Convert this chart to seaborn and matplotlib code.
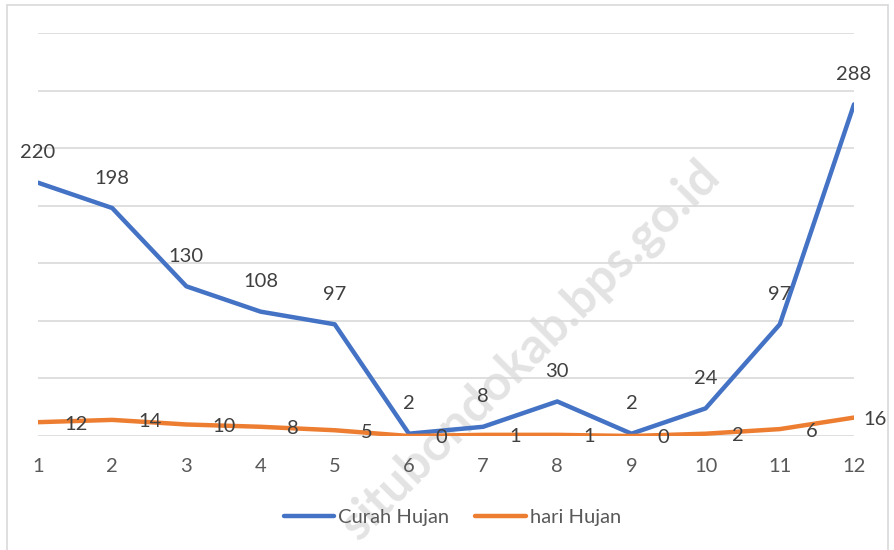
import pandas as pd
import numpy as np
import seaborn as sns
import matplotlib.pyplot as plt
from matplotlib.lines import Line2D

# Data
months = [1, 2, 3, 4, 5, 6, 7, 8, 9, 10, 11, 12]
curah_hujan = [220, 198, 130, 108, 97, 2, 8, 30, 2, 24, 97, 288]
hari_hujan = [12, 14, 10, 8, 5, 0, 1, 1, 0, 2, 6, 16]
series_names = ['Curah Hujan', 'hari Hujan']
colors = ['#4472C4', '#ED7D31']

sns.set_theme(style='white')
plt.rcParams['font.family'] = ['Lato', 'DejaVu Sans']
fs = 14.5

df = pd.DataFrame({
    'bulan': months * 2,
    'nilai': curah_hujan + hari_hujan,
    'seri': [series_names[0]] * len(months) + [series_names[1]] * len(months),
})

fig = plt.figure(figsize=(8.94, 5.5), dpi=100)
ax = fig.add_axes([38 / 894, 1 - 436 / 550, (854 - 38) / 894, (436 - 33) / 550])
ax.set_zorder(2)

# watermark behind the chart (pixel coords from bottom-left)
fig.text(530, 550 - 350, 'situbondokab.bps.go.id', transform=None, fontsize=36, fontweight='bold',
         color='#E3E3E3', rotation=45, rotation_mode='anchor', ha='center', va='center', zorder=1)

sns.lineplot(data=df, x='bulan', y='nilai', hue='seri', palette=colors, linewidth=3.2,
             ax=ax, legend=False, zorder=3)
ax.patch.set_alpha(0)

ax.set_xlim(1, 12)
ax.set_ylim(0, 350)
ax.set_yticks(np.arange(0, 351, 50))
ax.set_yticklabels([])
ax.set_xticks(months)
ax.set_xticklabels([str(m) for m in months])
ax.grid(axis='y', color='#D9D9D9', linewidth=1.2)
ax.tick_params(axis='x', length=0, pad=16, labelsize=fs, labelcolor='#595959')
ax.tick_params(axis='y', length=0)
for s in ax.spines.values():
    s.set_visible(False)
ax.set_xlabel('')
ax.set_ylabel('')

# data labels
for m, v in zip(months, curah_hujan):
    ax.annotate(str(v), (m, v), xytext=(0, 21.5), textcoords='offset points',
                ha='center', va='center', fontsize=fs, color='#404040', zorder=5)
for m, v in zip(months, hari_hujan):
    dx = 6.5 if m == months[-1] else 18.7
    ax.annotate(str(v), (m, v), xytext=(dx, -1.4), textcoords='offset points',
                ha='left', va='center', fontsize=fs, color='#404040', zorder=5)

handles = [Line2D([], [], color=c, linewidth=3.2) for c in colors]
leg = fig.legend(handles, series_names, loc='center', bbox_to_anchor=(0.506, 1 - 517 / 550),
                 ncol=2, frameon=False, fontsize=fs, handlelength=2.5, handletextpad=0.2,
                 columnspacing=1.3, labelcolor='#595959')
leg.set_zorder(3)

# chart border (bottom edge falls outside the image)
border = dict(color='#D9D9D9', linewidth=1.2, transform=fig.transFigure)
fig.add_artist(Line2D([6.5 / 894, 6.5 / 894], [0, 1 - 5 / 550], **border))
fig.add_artist(Line2D([6.5 / 894, 888 / 894], [1 - 5 / 550, 1 - 5 / 550], **border))
fig.add_artist(Line2D([888 / 894, 888 / 894], [0, 1 - 5 / 550], **border))

fig.savefig('out.png', dpi=100)
